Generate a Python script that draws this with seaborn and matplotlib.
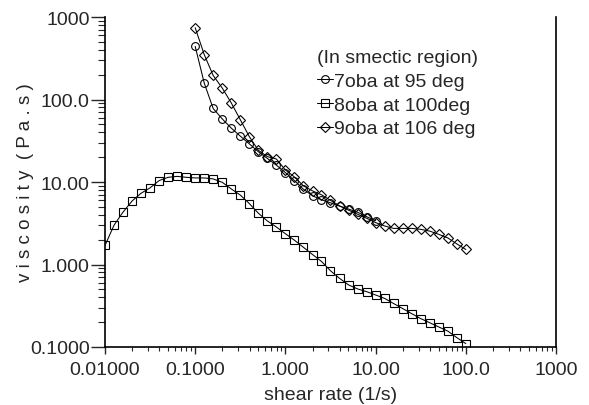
import numpy as np
import pandas as pd
import matplotlib
matplotlib.use("Agg")
import matplotlib.pyplot as plt
import seaborn as sns

# shear rate values (1/s), 10 points per decade
shear = [0.01, 0.0126, 0.0158, 0.02, 0.0251, 0.0316, 0.0398, 0.0501, 0.0631, 0.0794,
         0.1, 0.126, 0.158, 0.2, 0.251, 0.316, 0.398, 0.501, 0.631, 0.794,
         1.0, 1.26, 1.58, 2.0, 2.51, 3.16, 3.98, 5.01, 6.31, 7.94,
         10.0, 12.6, 15.8, 20.0, 25.1, 31.6, 39.8, 50.1, 63.1, 79.4, 100.0]

# 7oba: 0.1 .. 10
visc_7oba = [440, 158, 78, 58, 45, 36, 29, 23.3, 19.3, 16,
             13, 10.4, 8.2, 6.8, 6.1, 5.6, 5.1, 4.7, 4.3, 3.8, 3.4]
# 8oba: 0.01 .. 100
visc_8oba = [1.7, 3.0, 4.3, 5.9, 7.3, 8.5, 10.4, 11.4, 11.7, 11.4,
             11.2, 11.2, 10.9, 9.9, 8.24, 6.95, 5.48, 4.19, 3.37, 2.85,
             2.36, 1.97, 1.62, 1.32, 1.09, 0.84, 0.68, 0.566, 0.506, 0.469,
             0.427, 0.388, 0.337, 0.292, 0.254, 0.221, 0.197, 0.175, 0.156, 0.13, 0.11]
# 9oba: 0.1 .. 100
visc_9oba = [740, 350, 196, 137, 91, 57, 35.5, 24.2, 20.3, 19,
             14, 11.5, 9.0, 7.8, 7.0, 6.0, 5.14, 4.56, 4.07, 3.64,
             3.22, 2.93, 2.74, 2.74, 2.74, 2.67, 2.54, 2.32, 2.10, 1.78, 1.52]

labels = ["7oba at 95 deg", "8oba at 100deg", "9oba at 106 deg"]
markers = ["o", "s", "D"]
marker_sizes = [5.6, 5.8, 4.6]

x_ticks = [0.01, 0.1, 1, 10, 100, 1000]
x_ticklabels = ["0.01000", "0.1000", "1.000", "10.00", "100.0", "1000"]
y_ticks = [0.1, 1, 10, 100, 1000]
y_ticklabels = ["0.1000", "1.000", "10.00", "100.0", "1000"]

sns.set_style("white")
plt.rcParams['font.family'] = ['Liberation Sans', 'DejaVu Sans']

fig = plt.figure(figsize=(5.89, 4.06), dpi=100)
ax = fig.add_axes([105 / 589, 58 / 406, 451 / 589, 330 / 406])

series = [(shear[10:31], visc_7oba), (shear, visc_8oba), (shear[10:41], visc_9oba)]
for (xs, ys), lab, m, ms in zip(series, labels, markers, marker_sizes):
    sns.lineplot(x=xs, y=ys, ax=ax, color="black", lw=0.75, marker=m,
                 ms=ms, mfc="none", mec="black", mew=0.8,
                 label=lab, sort=False)

ax.set_xscale("log")
ax.set_yscale("log")
ax.set_xlim(0.01, 1000)
ax.set_ylim(0.1, 1000)
ax.set_xticks(x_ticks, x_ticklabels)
ax.set_yticks(y_ticks, y_ticklabels)
ax.xaxis.set_minor_locator(matplotlib.ticker.LogLocator(base=10, subs=np.arange(2, 10)))
ax.yaxis.set_minor_locator(matplotlib.ticker.LogLocator(base=10, subs=np.arange(2, 10)))
ax.xaxis.set_minor_formatter(matplotlib.ticker.NullFormatter())
ax.yaxis.set_minor_formatter(matplotlib.ticker.NullFormatter())

ax.tick_params(axis="x", which="major", direction="out", length=5, width=1, pad=5,
               labelsize=14, bottom=True)
ax.tick_params(axis="x", which="minor", direction="out", length=3, width=0.8, bottom=True)
ax.tick_params(axis="y", which="major", direction="out", length=10, width=1, pad=1,
               labelsize=14, left=True)
ax.tick_params(axis="y", which="minor", direction="out", length=5, width=0.8, left=True)
ax.tick_params(right=False, top=False, which="both")

for s in ["left", "bottom", "right"]:
    ax.spines[s].set_color("black")
    ax.spines[s].set_linewidth(1.2)
ax.spines["top"].set_visible(False)

ax.set_xlabel("shear rate (1/s)", fontsize=14, labelpad=6)
ax.set_ylabel("v i s c o s i t y  ( P a . s )", fontsize=13.5, labelpad=-3)

leg = ax.legend(title="(In smectic region)", loc="upper left",
                bbox_to_anchor=((317 - 105) / 451, (348 - 50) / 330),
                frameon=False, fontsize=14, title_fontsize=14, alignment="left",
                handlelength=0.8, handletextpad=0.1, labelspacing=0.32,
                borderpad=0, borderaxespad=0, markerscale=1)

fig.savefig("out.png", dpi=100)
